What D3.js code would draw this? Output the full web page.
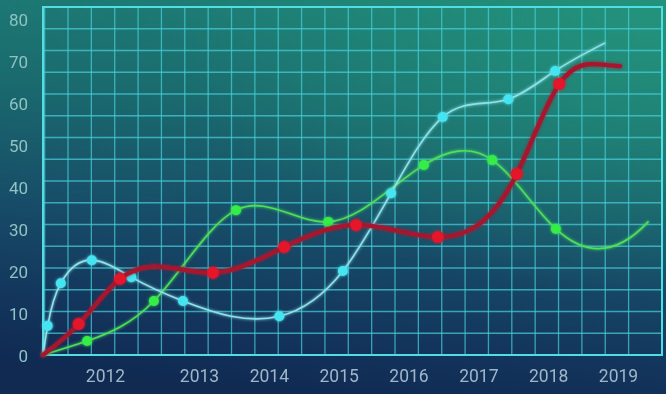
<!DOCTYPE html>
<html>
<head>
<meta charset="utf-8">
<script src="https://cdn.jsdelivr.net/npm/d3@7/dist/d3.min.js"></script>
<style>
  html, body { margin: 0; padding: 0; background: #123058; }
  svg { display: block; }
</style>
</head>
<body>
<svg id="chart" width="666" height="394"></svg>
<script>
// ---- data ----
const years = [2012, 2013, 2014, 2015, 2016, 2017, 2018, 2019];
const yTicks = [0, 10, 20, 30, 40, 50, 60, 70, 80];

const cyanX = [2011.34, 2011.39, 2011.53, 2011.86, 2012.28, 2012.83, 2014.15, 2015.06, 2015.75, 2016.49, 2017.43, 2018.10, 2018.81];
const cyanY = [0, 6.7, 16.5, 21.8, 17.9, 12.4, 8.9, 19.3, 37.2, 54.7, 58.8, 65.3, 71.7];

const redX = [2011.34, 2011.72, 2012.16, 2013.20, 2014.22, 2015.25, 2016.42, 2017.55, 2018.16, 2019.03];
const redY = [0, 7.1, 17.5, 18.9, 24.8, 29.9, 27.1, 41.6, 62.3, 66.4];

const greenX = [2011.34, 2011.81, 2012.52, 2013.53, 2014.85, 2016.22, 2017.20, 2018.11, 2019.43];
const greenY = [0, 3.2, 12.4, 33.3, 30.6, 43.7, 44.8, 29.0, 30.6];

// ---- layout ----
const W = 666, H = 394;
const frame = { left: 43, right: 662, top: 7, bottom: 355 };
const gridCols = 26.5, gridOffset = 0.07;

// Cubic spline parameterised by x (the curve stays a function of x), as a
// custom d3 curve factory. Each end is 'natural', 'parabolic' or 'flat'.
function curveSplineX(startEnd, endEnd) {
  return function (context) {
    let pts = [];
    return {
      areaStart() {}, areaEnd() {},
      lineStart() { pts = []; },
      point(px, py) { pts.push([+px, +py]); },
      lineEnd() {
        const n = pts.length;
        if (!n) return;
        context.moveTo(pts[0][0], pts[0][1]);
        if (n < 3) { for (let i = 1; i < n; i++) context.lineTo(pts[i][0], pts[i][1]); return; }
        const h = [], s = [];
        for (let i = 0; i < n - 1; i++) {
          h.push(pts[i + 1][0] - pts[i][0]);
          s.push((pts[i + 1][1] - pts[i][1]) / h[i]);
        }
        const a = new Array(n).fill(0), b = new Array(n).fill(0),
              c = new Array(n).fill(0), r = new Array(n).fill(0);
        // first row
        if (startEnd === 'parabolic') { b[0] = 1; c[0] = -1; }
        else if (startEnd === 'flat') { b[0] = 2 * h[0]; c[0] = h[0]; r[0] = 6 * s[0]; }
        else { b[0] = 1; }
        for (let i = 1; i < n - 1; i++) {
          a[i] = h[i - 1]; b[i] = 2 * (h[i - 1] + h[i]); c[i] = h[i];
          r[i] = 6 * (s[i] - s[i - 1]);
        }
        // last row
        const k = n - 1;
        if (endEnd === 'parabolic') { a[k] = -1; b[k] = 1; }
        else if (endEnd === 'flat') { a[k] = h[k - 1]; b[k] = 2 * h[k - 1]; r[k] = -6 * s[k - 1]; }
        else { b[k] = 1; }
        for (let i = 1; i < n; i++) {
          const w = a[i] / b[i - 1];
          b[i] -= w * c[i - 1]; r[i] -= w * r[i - 1];
        }
        const M = new Array(n);
        M[k] = r[k] / b[k];
        for (let i = k - 1; i >= 0; i--) M[i] = (r[i] - c[i] * M[i + 1]) / b[i];
        for (let i = 0; i < n - 1; i++) {
          const hh = h[i];
          const d0 = s[i] - hh * (2 * M[i] + M[i + 1]) / 6;
          const d1 = s[i] + hh * (M[i] + 2 * M[i + 1]) / 6;
          context.bezierCurveTo(
            pts[i][0] + hh / 3, pts[i][1] + d0 * hh / 3,
            pts[i + 1][0] - hh / 3, pts[i + 1][1] - d1 * hh / 3,
            pts[i + 1][0], pts[i + 1][1]);
        }
      }
    };
  };
}

const svg = d3.select('#chart');
const defs = svg.append('defs');

// background: teal at the top, greener to the upper right, navy at the bottom
const bg = defs.append('linearGradient').attr('id', 'bg')
  .attr('x1', '0.6').attr('y1', '0').attr('x2', '0.42').attr('y2', '1');
[[0, '#1e7f76'], [0.3, '#1a6a6e'], [0.6, '#174c68'], [0.85, '#13345b'], [1, '#102a52']]
  .forEach(([o, c]) => bg.append('stop').attr('offset', o).attr('stop-color', c));

const glowR = defs.append('radialGradient').attr('id', 'glowR')
  .attr('cx', '1').attr('cy', '0').attr('r', '0.75');
glowR.append('stop').attr('offset', 0).attr('stop-color', '#24967c').attr('stop-opacity', 0.85);
glowR.append('stop').attr('offset', 1).attr('stop-color', '#24967c').attr('stop-opacity', 0);

const glow = defs.append('filter').attr('id', 'glow')
  .attr('x', '-10%').attr('y', '-10%').attr('width', '120%').attr('height', '120%');
glow.append('feGaussianBlur').attr('stdDeviation', 1.6).attr('result', 'b');
const gm = glow.append('feMerge');
gm.append('feMergeNode').attr('in', 'b');
gm.append('feMergeNode').attr('in', 'SourceGraphic');

const soft = defs.append('filter').attr('id', 'soft');
soft.append('feGaussianBlur').attr('stdDeviation', 0.45);

svg.append('rect').attr('width', W).attr('height', H).attr('fill', 'url(#bg)');
svg.append('rect').attr('width', W).attr('height', H).attr('fill', 'url(#glowR)');

// ---- scales ----
const x = d3.scaleLinear().domain([2012, 2013, 2019]).range([105, 199, 618]);
const y = d3.scaleLinear().domain([0, 80]).range([frame.bottom, frame.top]);
const yLabel = d3.scaleLinear().domain([0, 80]).range([356, 20]);
const gx = d3.scaleLinear().domain([0, gridCols]).range([frame.left, frame.right]);

// ---- grid ----
const grid = svg.append('g').attr('filter', 'url(#soft)');
grid.selectAll('line.h').data(d3.range(5, 80, 5)).join('line')
  .attr('x1', frame.left).attr('x2', frame.right)
  .attr('y1', d => y(d)).attr('y2', d => y(d))
  .attr('stroke', '#45cfd8').attr('stroke-opacity', 0.72).attr('stroke-width', 1.3);
grid.selectAll('line.v').data(d3.range(0, 26)).join('line')
  .attr('x1', d => gx(d + gridOffset)).attr('x2', d => gx(d + gridOffset))
  .attr('y1', frame.top).attr('y2', frame.bottom)
  .attr('stroke', '#45cfd8').attr('stroke-opacity', 0.72).attr('stroke-width', 1.3);
grid.append('rect')
  .attr('x', frame.left).attr('y', frame.top)
  .attr('width', frame.right - frame.left).attr('height', frame.bottom - frame.top)
  .attr('fill', 'none').attr('stroke', '#52dde2').attr('stroke-width', 2);

// ---- axis labels ----
const yAxis = d3.axisLeft(yLabel).tickValues(yTicks).tickSize(0).tickPadding(0);
svg.append('g').attr('transform', 'translate(28,0)').call(yAxis)
  .call(g => g.select('.domain').remove())
  .selectAll('text')
  .attr('fill', '#8fc2c3').attr('font-family', 'Roboto, sans-serif')
  .attr('font-size', 17).attr('filter', 'url(#soft)');

const xAxis = d3.axisBottom(x).tickValues(years).tickFormat(d3.format('d')).tickSize(0).tickPadding(0);
svg.append('g').attr('transform', 'translate(0,370)').call(xAxis)
  .call(g => g.select('.domain').remove())
  .selectAll('text')
  .attr('fill', '#9fb6c9').attr('font-family', 'Roboto, sans-serif')
  .attr('font-size', 17.5).attr('filter', 'url(#soft)');

// ---- series ----
const series = [
  { xs: greenX, ys: greenY, line: '#4ee05a', dot: '#35ec48', width: 1.6, r: 5, ends: ['natural', 'parabolic'] },
  { xs: cyanX, ys: cyanY, line: '#8ee2ea', dot: '#45e4f0', width: 1.6, r: 5, ends: ['natural', 'natural'] },
  { xs: redX, ys: redY, line: '#a6182e', dot: '#e4122c', width: 4.2, r: 6, ends: ['natural', 'flat'] }
];

series.forEach(s => {
  const pts = s.xs.map((v, i) => [v, s.ys[i]]);
  const line = d3.line().x(d => x(d[0])).y(d => y(d[1])).curve(curveSplineX(...s.ends));
  const g = svg.append('g').attr('filter', 'url(#glow)');
  g.append('path').datum(pts).attr('d', line)
    .attr('fill', 'none').attr('stroke', s.line)
    .attr('stroke-width', s.width).attr('stroke-linecap', 'round');
  g.selectAll('circle').data(pts.slice(1, -1)).join('circle')
    .attr('cx', d => x(d[0])).attr('cy', d => y(d[1]))
    .attr('r', s.r).attr('fill', s.dot);
});
</script>
</body>
</html>
